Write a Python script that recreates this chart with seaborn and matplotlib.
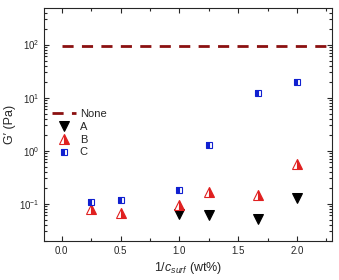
import numpy as np
import pandas as pd
import matplotlib
matplotlib.use("Agg")
import matplotlib.pyplot as plt
import seaborn as sns

# data
none_x = [0.0, 2.3]
none_y = [95, 95]
a_x = [1.0, 1.25, 1.67, 2.0]
a_y = [0.065, 0.06, 0.052, 0.13]
b_x = [0.25, 0.5, 1.0, 1.25, 1.67, 2.0]
b_y = [0.08, 0.067, 0.096, 0.168, 0.148, 0.57]
c_x = [0.25, 0.5, 1.0, 1.25, 1.67, 2.0]
c_y = [0.11, 0.12, 0.18, 1.3, 12, 20]

sns.set_style("ticks")
plt.rcParams['font.family'] = ['Liberation Sans', 'DejaVu Sans']
plt.rcParams['xtick.direction'] = 'in'
plt.rcParams['ytick.direction'] = 'in'
plt.rcParams['mathtext.fontset'] = 'custom'
plt.rcParams['mathtext.it'] = 'Liberation Sans:italic'
plt.rcParams['mathtext.rm'] = 'Liberation Sans'

fig, ax = plt.subplots(figsize=(3.39, 2.8), dpi=100)
fig.subplots_adjust(left=0.13, right=0.98, top=0.97, bottom=0.14)

sns.lineplot(x=none_x, y=none_y, ax=ax, color='#8b1010', linestyle=(0, (4, 3)),
             linewidth=2, label='None')
sns.lineplot(x=a_x, y=a_y, ax=ax, marker='v', linestyle='', color='black',
             markersize=6.5, markeredgecolor='black', label='A')
sns.lineplot(x=b_x, y=b_y, ax=ax, marker='^', linestyle='', color='#e02020',
             markersize=6.5, fillstyle='right', markerfacecoloralt='white',
             markeredgecolor='#e02020', markeredgewidth=0.8, label='B')
sns.lineplot(x=c_x, y=c_y, ax=ax, marker='s', linestyle='', color='#1020d0',
             markersize=5, fillstyle='left', markerfacecoloralt='white',
             markeredgecolor='#1020d0', markeredgewidth=0.8, label='C')

ax.set_yscale('log')
ax.set_ylim(0.02, 480)
ax.set_xlim(-0.15, 2.3)
ax.set_xticks([0.0, 0.5, 1.0, 1.5, 2.0])
ax.set_xticklabels(['0.0', '0.5', '1.0', '1.5', '2.0'])
ax.set_xticks([0.25, 0.75, 1.25, 1.75, 2.25], minor=True)
ax.set_yticks([0.1, 1, 10, 100])
ax.tick_params(which='both', top=True, right=True, labelsize=7, width=0.8)
ax.tick_params(which='major', length=3.5)
ax.tick_params(which='minor', length=2)
for s in ax.spines.values():
    s.set_linewidth(0.8)

ax.set_xlabel(r"1/$c_{surf}$ (wt%)", fontsize=9, labelpad=3)
ax.set_ylabel("G\u2032 (Pa)", fontsize=9, labelpad=2)

ax.legend(loc='upper left', bbox_to_anchor=(0.0, 0.6), frameon=False, fontsize=8,
          handlelength=2.2, handletextpad=0.3, labelspacing=0.25, borderaxespad=0.3)

fig.savefig("out.png", dpi=100)
